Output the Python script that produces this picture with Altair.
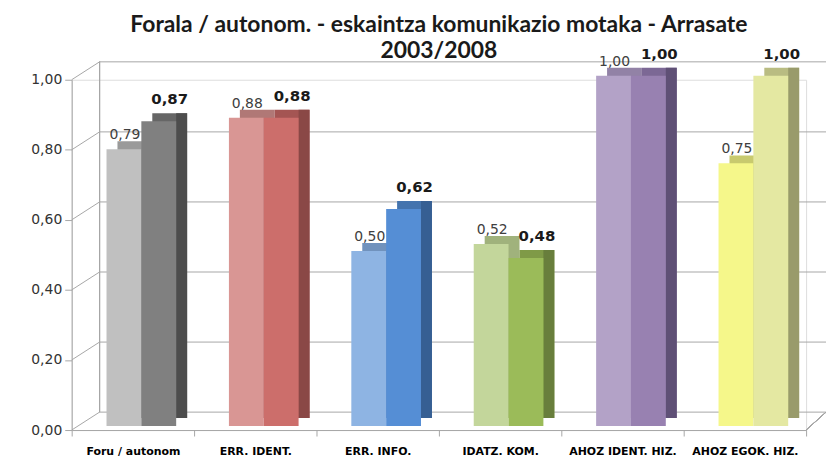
import altair as alt
import pandas as pd

categories = ["Foru / autonom", "ERR. IDENT.", "ERR. INFO.", "IDATZ. KOM.",
              "AHOZ IDENT. HIZ.", "AHOZ EGOK. HIZ."]
values_2003 = [0.79, 0.88, 0.50, 0.52, 1.00, 0.75]
values_2008 = [0.87, 0.88, 0.62, 0.48, 1.00, 1.00]
y_ticks = [0.0, 0.2, 0.4, 0.6, 0.8, 1.0]

# palette (styles)
light_front = ["#c0c0c0", "#d99694", "#8eb4e3", "#c3d69b", "#b3a2c7", "#f5f78a"]
light_top = ["#9a9a9a", "#b07876", "#7092bd", "#a0b27c", "#9282a6", "#c8ca6e"]
dark_front = ["#808080", "#cc6e6b", "#558ed5", "#9bbb59", "#9881b1", "#e4e8a2"]
dark_top = ["#666666", "#a45553", "#4474ae", "#7f9a47", "#7c6895", "#b9bc82"]
dark_side = ["#4d4d4d", "#8a4846", "#365f93", "#687e3c", "#5f5076", "#999b6b"]

def fmt(v):
    return f"{v:.2f}".replace(".", ",")

df = pd.DataFrame({
    "cat": categories,
    "v1": values_2003,
    "v2": values_2008,
    "l1": [fmt(v) for v in values_2003],
    "l2": [fmt(v) for v in values_2008],
    "c_lf": light_front, "c_lt": light_top,
    "c_df": dark_front, "c_dt": dark_top, "c_ds": dark_side,
})
gdf = pd.DataFrame({"v": y_ticks})

W, H = 738, 352
DX, DY = 11, 8
BW = 35
LIFT = -4

yscale = alt.Scale(domain=[0, 1], nice=False)
xscale = alt.Scale(domain=categories, paddingInner=0, paddingOuter=0)

xaxis = alt.Axis(title=None, labelAngle=0, labelFont="DejaVu Sans",
                 labelFontWeight="bold", labelFontSize=11, labelColor="black",
                 tickBand="extent", tickSize=6, domainColor="#a6a6a6",
                 tickColor="#a6a6a6", labelPadding=10)
yaxis = alt.Axis(title=None, values=y_ticks, grid=False,
                 labelExpr="replace(format(datum.value, '.2f'), '.', ',')",
                 domainColor="#a6a6a6", tickColor="#a6a6a6", tickSize=7,
                 labelFontSize=14, labelFont="DejaVu Sans", labelColor="#333333",
                 labelPadding=3)

GRID = "#a6a6a6"

back_grid = alt.Chart(gdf).mark_rule(color=GRID, strokeWidth=1, yOffset=-18).encode(
    y=alt.Y("v:Q", scale=yscale, axis=yaxis),
    x=alt.value(28), x2=alt.value(W + 20),
)
diag = alt.Chart(gdf).mark_rule(color=GRID, strokeWidth=1, y2Offset=-18).encode(
    y=alt.Y("v:Q", scale=yscale), y2=alt.Y2("v:Q"),
    x=alt.value(0), x2=alt.value(28),
)
back_left = alt.Chart(gdf).mark_rule(color=GRID, strokeWidth=1, yOffset=-18, y2Offset=-18).encode(
    y=alt.datum(0, scale=yscale), y2=alt.datum(1),
    x=alt.value(28),
)
floor_right = alt.Chart(gdf).mark_rule(color=GRID, strokeWidth=1, y2Offset=-18).encode(
    y=alt.datum(0, scale=yscale), y2=alt.datum(0),
    x=alt.value(W), x2=alt.value(W + 20),
)

base = alt.Chart(df).encode(
    x=alt.X("cat:N", sort=categories, scale=xscale, axis=xaxis),
)

L_OFF = -9
D_OFF = L_OFF + BW

light_topbox = base.mark_bar(width=BW, xOffset=L_OFF + DX, yOffset=LIFT - DY, y2Offset=LIFT - DY).encode(
    y=alt.Y("v1:Q", scale=yscale), color=alt.Color("c_lt:N", scale=None))
light_frontbox = base.mark_bar(width=BW, xOffset=L_OFF, yOffset=LIFT, y2Offset=LIFT).encode(
    y=alt.Y("v1:Q", scale=yscale), color=alt.Color("c_lf:N", scale=None))
dark_topbox = base.mark_bar(width=BW, xOffset=D_OFF + DX, yOffset=LIFT - DY, y2Offset=LIFT - DY).encode(
    y=alt.Y("v2:Q", scale=yscale), color=alt.Color("c_dt:N", scale=None))
dark_sidebox = base.mark_bar(width=DX, xOffset=D_OFF + BW / 2 + DX / 2, yOffset=LIFT - DY, y2Offset=LIFT - DY / 2).encode(
    y=alt.Y("v2:Q", scale=yscale), color=alt.Color("c_ds:N", scale=None))
dark_frontbox = base.mark_bar(width=BW, xOffset=D_OFF, yOffset=LIFT, y2Offset=LIFT).encode(
    y=alt.Y("v2:Q", scale=yscale), color=alt.Color("c_df:N", scale=None))

light_labels = base.mark_text(font="DejaVu Sans", fontSize=14, color="#404040",
                              dx=L_OFF + 1, dy=-14, baseline="alphabetic").encode(
    y=alt.Y("v1:Q", scale=yscale), text="l1:N")
dark_labels = base.mark_text(font="DejaVu Sans", fontSize=15, fontWeight="bold", color="#1a1a1a",
                             dx=37, dy=-21, baseline="alphabetic").encode(
    y=alt.Y("v2:Q", scale=yscale), text="l2:N")

chart = alt.layer(
    back_grid, diag, back_left, floor_right,
    light_topbox, light_frontbox, dark_topbox, dark_sidebox, dark_frontbox,
    light_labels, dark_labels,
).properties(
    width=W, height=H,
    autosize=alt.AutoSizeParams(type="none"),
    padding={"left": 64, "top": 71, "right": 22, "bottom": 26},
    title=alt.TitleParams(
        ["Forala / autonom. - eskaintza komunikazio motaka - Arrasate", "2003/2008"],
        font="Lato", fontSize=23, fontWeight="bold", color="#1a1a1a",
        anchor="middle", lineHeight=26, offset=24, frame="group", dy=40,
    ),
).configure_view(strokeWidth=0).configure(background="white")

chart.save("out.html", embed_options={"renderer": "svg", "actions": False})
